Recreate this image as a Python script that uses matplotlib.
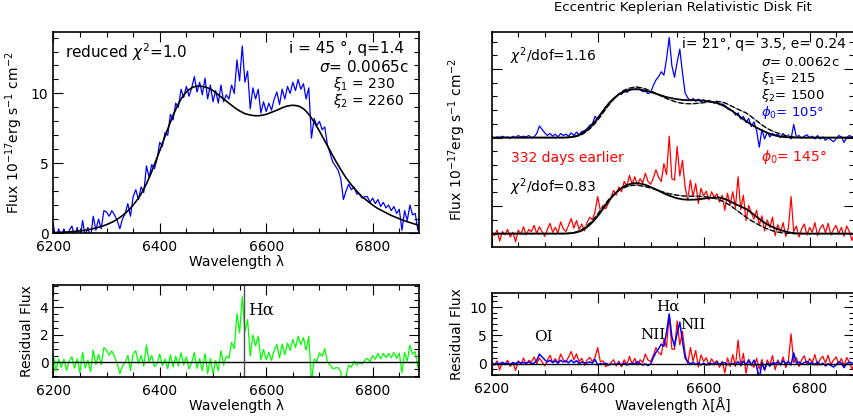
import numpy as np
import matplotlib.pyplot as plt
from matplotlib.ticker import MultipleLocator, FixedLocator

plt.rcParams['font.family'] = ['DejaVu Sans']
plt.rcParams['mathtext.fontset'] = 'dejavusans'

# wavelength grid of the spectra (5 A bins)
wave = np.arange(6200, 6895, 5)

# left: single epoch spectrum and circular disk fit
flux_left = [0.6, -0.6, 0.3, -0.3, 0.3, -0.5, 0.2, 0.5, -0.3, 0.4,
             -0.6, 0.9, -0.2, 0.4, -0.4, 1.2, 0.2, 1.0, 0.3, 1.6,
             1.5, 1.2, 1.6, 1.3, 0.9, 0.3, 1.0, 1.4, 2.1, 1.2,
             2.6, 3.1, 2.4, 3.3, 2.9, 4.8, 4.0, 4.9, 4.6, 5.3,
             6.5, 6.2, 7.2, 7.0, 8.5, 8.1, 9.3, 9.0, 10.3, 9.7,
             10.5, 9.8, 10.4, 11.2, 10.1, 10.8, 9.9, 11.1, 9.6, 10.6,
             9.4, 10.2, 9.3, 10.6, 9.4, 9.9, 9.6, 10.6, 10.0, 12.4,
             10.9, 13.4, 10.8, 11.6, 8.9, 10.4, 9.6, 10.3, 8.6, 9.4,
             8.7, 9.3, 8.8, 9.6, 10.1, 9.2, 10.3, 9.6, 10.5, 10.0,
             10.8, 10.2, 11.0, 10.3, 10.7, 9.6, 10.4, 6.8, 8.2, 7.7,
             8.0, 7.4, 7.6, 6.3, 5.7, 5.1, 4.8, 4.5, 3.9, 2.4,
             3.0, 3.5, 3.1, 3.3, 2.8, 2.8, 2.5, 2.6, 2.6, 2.2,
             2.5, 2.1, 2.4, 1.9, 2.2, 1.8, 2.0, 1.6, 1.9, 1.4,
             1.7, 0.2, 1.6, 0.9, 2.0, 1.3, 1.4, 0.2, 0.8]
fit_left = [0.03, 0.035, 0.04, 0.05, 0.06, 0.07, 0.08, 0.09, 0.11, 0.13,
            0.15, 0.17, 0.2, 0.23, 0.27, 0.31, 0.36, 0.41, 0.47, 0.53,
            0.6, 0.68, 0.77, 0.87, 0.98, 1.11, 1.25, 1.41, 1.58, 1.78,
            2.0, 2.24, 2.5, 2.8, 3.15, 3.53, 3.95, 4.41, 4.9, 5.4,
            5.9, 6.42, 6.95, 7.45, 7.95, 8.42, 8.85, 9.25, 9.6, 9.88,
            10.1, 10.27, 10.4, 10.48, 10.52, 10.52, 10.5, 10.46, 10.4, 10.31,
            10.2, 10.06, 9.9, 9.75, 9.6, 9.45, 9.3, 9.15, 9.0, 8.87,
            8.75, 8.65, 8.55, 8.5, 8.45, 8.42, 8.4, 8.4, 8.42, 8.46,
            8.5, 8.57, 8.65, 8.72, 8.8, 8.88, 8.97, 9.04, 9.1, 9.13,
            9.15, 9.13, 9.1, 9.02, 8.9, 8.72, 8.5, 8.24, 7.95, 7.63,
            7.3, 6.95, 6.6, 6.25, 5.9, 5.55, 5.2, 4.87, 4.55, 4.25,
            3.95, 3.7, 3.45, 3.22, 3.0, 2.8, 2.6, 2.45, 2.3, 2.15,
            2.0, 1.87, 1.75, 1.65, 1.55, 1.45, 1.35, 1.26, 1.18, 1.1,
            1.02, 0.95, 0.88, 0.81, 0.75, 0.69, 0.63, 0.58, 0.53]

# right: two epochs (blue = recent, red = 332 days earlier)
flux_blue = [0.1, -0.1, 0.1, 0.0, 0.2, 0.0, 0.1, -0.1, 0.2, 0.0,
             0.3, 0.1, 0.2, 0.1, 0.3, 0.0, 0.1, 0.6, 1.7, 1.2,
             0.7, 0.3, 0.6, 0.2, 0.5, 0.1, 0.6, 0.3, 0.5, 0.2,
             0.7, 0.3, 0.8, 0.4, 0.9, 1.0, 1.3, 1.8, 2.0, 3.1,
             2.6, 3.4, 3.8, 4.5, 4.7, 5.2, 5.6, 5.9, 6.4, 6.3,
             6.8, 6.6, 6.9, 7.1, 7.0, 7.4, 7.0, 6.7, 6.8, 6.4,
             6.6, 7.6, 8.4, 8.9, 9.6, 9.1, 11.5, 14.6, 10.5, 8.8,
             11.0, 12.9, 9.5, 6.5, 5.8, 5.4, 5.7, 5.3, 5.6, 5.2,
             5.5, 5.1, 5.4, 5.2, 5.0, 5.3, 4.8, 4.9, 4.7, 4.2,
             4.0, 3.9, 3.3, 3.6, 2.7, 3.1, 2.2, 2.8, 1.6, 2.3,
             1.0, -1.4, 1.2, -0.2, 0.8, 0.1, 0.6, 0.3, 0.5, 0.0,
             0.6, 0.1, 0.4, -0.2, 1.9, 0.1, 0.3, -0.1, 0.2, 0.4,
             0.0, 0.2, -0.2, 0.3, -0.2, 0.1, -0.4, 0.0, -0.3, -0.6,
             -0.2, 0.3, 0.1, -0.7, 0.0, 0.3, 0.1, 0.2, 0.1]
flux_red = [0.2, -0.3, 0.5, -1.1, 0.3, -0.2, 0.6, -0.5, 0.2, -1.2,
            0.5, -0.1, 1.0, -0.2, 0.6, 0.3, 1.2, 0.0, 1.0, 0.3,
            -0.4, 0.6, 1.5, 0.2, 0.9, 0.1, 1.7, 0.7, 0.3, 1.2,
            2.2, 0.8, 1.9, 0.6, 1.4, 0.4, 1.6, 2.4, 2.0, 3.2,
            5.4, 3.4, 4.1, 3.6, 4.4, 5.3, 6.3, 5.6, 6.8, 6.1,
            7.6, 6.9, 8.5, 7.2, 8.3, 7.1, 8.0, 7.4, 8.8, 7.6,
            7.2, 8.1, 9.3, 8.2, 7.6, 10.2, 8.6, 14.2, 8.0, 7.8,
            12.7, 8.4, 10.7, 6.8, 4.9, 7.8, 5.4, 7.3, 4.4, 6.6,
            5.5, 6.2, 4.9, 6.1, 5.3, 5.8, 4.6, 5.6, 3.4, 5.9,
            4.2, 6.1, 3.8, 8.3, 3.5, 5.6, 1.9, 4.1, 3.0, 2.1,
            3.4, 1.2, 2.6, 0.4, 2.0, 0.9, 2.4, -0.3, 1.3, 0.2,
            1.6, -0.4, 0.8, 5.4, 0.3, 1.1, -0.5, 0.7, 1.4, -0.2,
            0.9, 0.2, 1.6, -0.3, 0.8, 1.3, 0.1, 1.5, -0.2, 0.6,
            1.2, 0.0, 0.9, -0.4, 1.1, 0.3, -1.0, 0.2, -0.8]
# eccentric disk models: phi0 = 105 deg (fit_a) and phi0 = 145 deg (fit_b)
fit_a = [0.0] * 28 + [
    0.02, 0.04, 0.08, 0.15, 0.25, 0.4, 0.6, 0.85, 1.15, 1.5,
    1.9, 2.35, 2.85, 3.37, 3.9, 4.4, 4.9, 5.32, 5.7, 6.02,
    6.3, 6.52, 6.7, 6.84, 6.95, 7.02, 7.05, 7.04, 7.0, 6.93,
    6.85, 6.75, 6.65, 6.53, 6.4, 6.27, 6.15, 6.02, 5.9, 5.82,
    5.75, 5.67, 5.6, 5.55, 5.5, 5.47, 5.45, 5.45, 5.45, 5.45,
    5.45, 5.43, 5.4, 5.35, 5.3, 5.23, 5.15, 5.04, 4.9, 4.74,
    4.55, 4.34, 4.1, 3.83, 3.55, 3.25, 2.95, 2.67, 2.4, 2.15,
    1.9, 1.67, 1.45, 1.25, 1.05, 0.87, 0.7, 0.55, 0.42, 0.31,
    0.22, 0.15, 0.1, 0.06, 0.04, 0.02] + [0.0] * 25
fit_b = [0.0] * 28 + [
    0.01, 0.03, 0.05, 0.1, 0.18, 0.3, 0.45, 0.68, 0.95, 1.28,
    1.65, 2.08, 2.55, 3.06, 3.6, 4.13, 4.65, 5.14, 5.6, 6.0,
    6.35, 6.65, 6.9, 7.07, 7.2, 7.29, 7.35, 7.34, 7.3, 7.22,
    7.1, 6.96, 6.8, 6.63, 6.45, 6.25, 6.05, 5.87, 5.7, 5.54,
    5.4, 5.27, 5.15, 5.07, 5.0, 4.97, 4.95, 4.94, 4.95, 4.97,
    5.0, 5.05, 5.1, 5.15, 5.2, 5.23, 5.25, 5.26, 5.25, 5.17,
    5.05, 4.89, 4.7, 4.5, 4.3, 4.12, 3.95, 3.78, 3.6, 3.35,
    3.05, 2.75, 2.45, 2.15, 1.85, 1.59, 1.35, 1.14, 0.95, 0.79,
    0.65, 0.52, 0.4, 0.29, 0.2, 0.13, 0.08, 0.04, 0.02, 0.01] + [0.0] * 21
blue_offset = 14.0
halpha = 6558

flux_left = np.array(flux_left)
fit_left = np.array(fit_left)
flux_blue = np.array(flux_blue)
flux_red = np.array(flux_red)
fit_a = np.array(fit_a)
fit_b = np.array(fit_b)

fig = plt.figure(figsize=(8.54, 4.16), dpi=100)
ax1 = fig.add_axes([0.0624, 0.4399, 0.4282, 0.4832])
ax2 = fig.add_axes([0.0624, 0.0938, 0.4282, 0.2212])
ax3 = fig.add_axes([0.5758, 0.4063, 0.4237, 0.5168])
ax4 = fig.add_axes([0.5758, 0.0986, 0.4237, 0.1971])

for ax in (ax1, ax2, ax3, ax4):
    ax.tick_params(which='both', direction='in', top=True, right=True,
                   labelsize=10, width=0.8)
    ax.tick_params(which='major', length=7)
    ax.tick_params(which='minor', length=3.5)
    ax.tick_params(axis='x', pad=5)
    ax.xaxis.set_major_locator(MultipleLocator(200))
    ax.xaxis.set_minor_locator(MultipleLocator(50))
    for s in ax.spines.values():
        s.set_linewidth(1.2)

# top left
ax1.plot(wave, flux_left, color='#0000ff', lw=0.9)
ax1.plot(wave, fit_left, color='black', lw=1.2)
ax1.set_xlim(6200, 6887)
ax1.set_ylim(0, 14.4)
ax1.yaxis.set_major_locator(MultipleLocator(5))
ax1.yaxis.set_minor_locator(MultipleLocator(1))
ax1.set_xlabel('Wavelength λ', fontsize=10, labelpad=1)
ax1.set_ylabel(r'Flux 10$^{-17}$erg s$^{-1}$ cm$^{-2}$', fontsize=10)
ax1.text(0.032, 0.90, r'reduced $\chi^2$=1.0', transform=ax1.transAxes, fontsize=11, va='center')
ax1.text(0.958, 0.92, 'i = 45 °, q=1.4', transform=ax1.transAxes, fontsize=11, va='center', ha='right')
ax1.text(0.972, 0.826, r'$\sigma$= 0.0065c', transform=ax1.transAxes, fontsize=11, va='center', ha='right')
ax1.text(0.764, 0.740, r'$\xi_1$ = 230', transform=ax1.transAxes, fontsize=10, va='center')
ax1.text(0.764, 0.655, r'$\xi_2$ = 2260', transform=ax1.transAxes, fontsize=10, va='center')

# bottom left
ax2.plot(wave, flux_left - fit_left, color='#00ff00', lw=0.9)
ax2.axhline(0, color='black', lw=1.0)
ax2.axvline(halpha, color='0.3', lw=1.0)
ax2.set_xlim(6200, 6887)
ax2.set_ylim(-1.05, 5.6)
ax2.yaxis.set_major_locator(MultipleLocator(2))
ax2.yaxis.set_minor_locator(MultipleLocator(0.5))
ax2.set_xlabel('Wavelength λ', fontsize=10, labelpad=1)
ax2.set_ylabel('Residual Flux', fontsize=10)
ax2.text(6590, 3.8, 'Hα', fontsize=12, family='DejaVu Serif', ha='center', va='center')

# top right
ax3.plot(wave, flux_blue + blue_offset, color='#0000ff', lw=0.9)
ax3.plot(wave, flux_red, color='#ff0000', lw=0.9)
ax3.plot(wave, fit_b + blue_offset, color='0.6', lw=1.0)
ax3.plot(wave, fit_b + blue_offset, color='black', lw=0.9, dashes=(4, 2))
ax3.plot(wave, fit_a + blue_offset, color='black', lw=1.3)
ax3.plot(wave, fit_a, color='0.6', lw=1.0)
ax3.plot(wave, fit_a, color='black', lw=0.9, dashes=(4, 2))
ax3.plot(wave, fit_b, color='black', lw=1.3)
ax3.set_xlim(6200, 6883)
ax3.set_ylim(-1.95, 29.4)
ax3.yaxis.set_major_locator(FixedLocator([4, 14, 24]))
ax3.yaxis.set_minor_locator(MultipleLocator(2))
ax3.tick_params(labelbottom=False, labelleft=False)
ax3.set_ylabel(r'Flux 10$^{-17}$erg s$^{-1}$ cm$^{-2}$', fontsize=10, labelpad=14)
ax3.text(0.051, 0.888, r'$\chi^2$/dof=1.16', transform=ax3.transAxes, fontsize=10, va='center')
ax3.text(0.979, 0.944, 'i= 21°, q= 3.5, e= 0.24', transform=ax3.transAxes, fontsize=10, va='center', ha='right')
ax3.text(0.744, 0.856, r'$\sigma$= 0.0062c', transform=ax3.transAxes, fontsize=9.5, va='center')
ax3.text(0.744, 0.783, r'$\xi_1$= 215', transform=ax3.transAxes, fontsize=9.5, va='center')
ax3.text(0.744, 0.705, r'$\xi_2$= 1500', transform=ax3.transAxes, fontsize=9.5, va='center')
ax3.text(0.744, 0.626, r'$\phi_0$= 105°', transform=ax3.transAxes, fontsize=9.5, va='center', color='#0000ff')
ax3.text(0.053, 0.414, '332 days earlier', transform=ax3.transAxes, fontsize=10, va='center', color='#ff0000')
ax3.text(0.744, 0.419, r'$\phi_0$= 145°', transform=ax3.transAxes, fontsize=10, va='center', color='#ff0000')
ax3.text(0.051, 0.279, r'$\chi^2$/dof=0.83', transform=ax3.transAxes, fontsize=10, va='center')

# bottom right
ax4.plot(wave, flux_red - fit_b, color='#ff0000', lw=0.9)
ax4.plot(wave, flux_blue - fit_a, color='#0000ff', lw=1.1)
ax4.axhline(0, color='black', lw=1.0)
ax4.set_xlim(6200, 6883)
ax4.set_ylim(-2, 12.5)
ax4.yaxis.set_major_locator(MultipleLocator(5))
ax4.yaxis.set_minor_locator(MultipleLocator(1))
ax4.set_xlabel('Wavelength λ[Å]', fontsize=10, labelpad=1)
ax4.set_ylabel('Residual Flux', fontsize=10)
for lab, xw, yv in [('Hα', 6533, 10.0), ('NII', 6504, 5.1), ('NII', 6580, 6.8), ('OI', 6298, 4.8)]:
    ax4.text(xw, yv, lab, fontsize=11, family='DejaVu Serif', ha='center', va='center')

fig.text(0.80, 0.981, 'Eccentric Keplerian Relativistic Disk Fit', fontsize=9.5, ha='center', va='center')

fig.savefig('out.png', dpi=100)
